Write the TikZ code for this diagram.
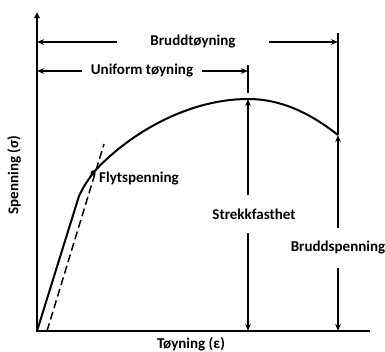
\documentclass[tikz,border=0pt]{standalone}
\usepackage{fontspec}
\setmainfont{Carlito}
\usetikzlibrary{arrows.meta}
\begin{document}
\begin{tikzpicture}[x=1pt,y=-1pt,
  lbl/.style={font=\fontsize{15}{18}\selectfont\bfseries, inner sep=0pt},
  axis/.style={line width=2pt},
  dim/.style={line width=1.7pt},
  tip/.style={-{Stealth[length=7pt,width=5.5pt]}},
  curve/.style={line width=2pt, line join=round},
  dashline/.style={line width=1.5pt, dash pattern=on 8pt off 4pt}]
\useasboundingbox (0,0) rectangle (385,351);
% key points
\coordinate (O) at (37,331);
\coordinate (ytop) at (37,12);
\coordinate (xend) at (370,331);
\coordinate (kink) at (79,196);
\coordinate (yield) at (93,173);
\coordinate (peak) at (248,99);
\coordinate (brk) at (338,135);
\coordinate (brktop) at (338,33);
\coordinate (unitop) at (248,65);
\coordinate (unibot) at (248,93);
\coordinate (dA) at (47,331);
\coordinate (dB) at (104,144);
\coordinate (sfbase) at (248,331);
\coordinate (bsbase) at (338,331);
% axes
\draw[axis] (xend) -- (O) -- (37,18);
\draw[axis, -{Latex[length=6pt,width=6.5pt]}] (37,20) -- (ytop);
% curve
\draw[curve] (O) -- (kink) .. controls (84,186) .. (yield)
  .. controls (125,137) and (185,99) .. (peak)
  .. controls (285,99) and (315,117) .. (brk);
\draw[dashline] (dA) -- (dB);
\fill (yield) circle (2.6pt);
% labels
\node[lbl, inner xsep=33pt] (bt) at (193,42) {Bruddtøyning};
\node[lbl, inner xsep=9pt] (ut) at (142,71) {Uniform tøyning};
\node[lbl, anchor=west] (fs) at (99,179) {Flytspenning};
\node[lbl, inner ysep=13pt] (sf) at (254,214) {Strekkfasthet};
\node[lbl, inner ysep=13pt] (bs) at (338,248) {Bruddspenning};
\node[lbl, rotate=90] (ylab) at (14,175) {Spenning (σ)};
\node[lbl] (xlab) at (191,344) {Tøyning (ε)};
% dimension lines
\draw[dim] (brktop) -- (brk);
\draw[dim] (unitop) -- (unibot);
\draw[dim, tip] (bt.west) -- (bt.west -| O);
\draw[dim, tip] (bt.east) -- (bt.east -| brk);
\draw[dim, tip] (ut.west) -- (ut.west -| O);
\draw[dim, tip] (ut.east) -- (ut.east -| peak);
\draw[dim, tip] (sf.north -| peak) -- (peak);
\draw[dim, tip] (sf.south -| peak) -- (sfbase);
\draw[dim, tip] (bs.north -| brk) -- (brk);
\draw[dim, tip] (bs.south -| brk) -- (bsbase);
\end{tikzpicture}
\end{document}
